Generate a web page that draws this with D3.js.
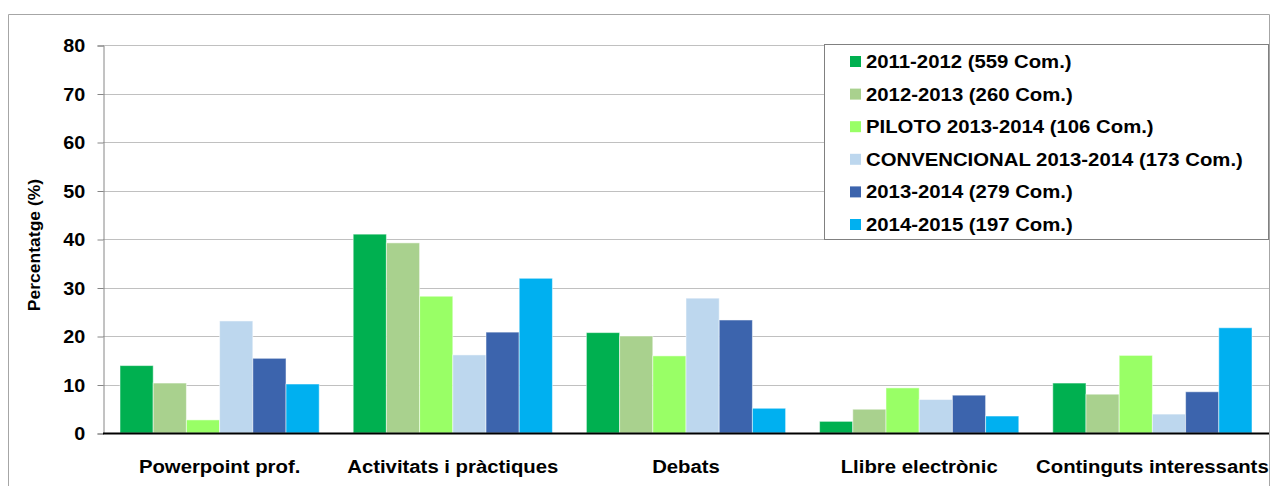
<!DOCTYPE html>
<html>
<head>
<meta charset="utf-8">
<script src="https://cdn.jsdelivr.net/npm/d3@7/dist/d3.min.js"></script>
<style>
body{margin:0;background:#fff;}
text{font-family:"Liberation Sans",Arial,sans-serif;font-weight:bold;fill:#000;}
</style>
</head>
<body>
<div id="chart"></div>
<script>
// categories and series
var categories=['Powerpoint prof.','Activitats i pràctiques','Debats','Llibre electrònic','Continguts interessants'];
var seriesNames=['2011-2012 (559 Com.)','2012-2013 (260 Com.)','PILOTO 2013-2014 (106 Com.)','CONVENCIONAL 2013-2014 (173 Com.)','2013-2014 (279 Com.)','2014-2015 (197 Com.)'];
var colors=['#00b050','#a9d18e','#99ff66','#bdd7ee','#3c64ad','#00b0f0'];
var s2011=[13.9,41.0,20.7,2.4,10.3];
var s2012=[10.3,39.2,20.0,4.9,8.0];
var sPiloto=[2.7,28.2,15.9,9.3,16.0];
var sConv=[23.1,16.1,27.8,6.9,3.9];
var s2013=[15.4,20.8,23.3,7.8,8.5];
var s2014=[10.1,31.9,5.1,3.5,21.7];
var yTicks=[0,10,20,30,40,50,60,70,80];
var series=[s2011,s2012,sPiloto,sConv,s2013,s2014];

var W=1282,H=486;
var stretch=1.13; // source text looks a bit wide
var svg=d3.select('#chart').append('svg').attr('width',W).attr('height',H);

// outer frame
svg.append('path')
    .attr('d',d3.line()([[8.5,H+2],[8.5,14.5],[1269.5,14.5],[1269.5,H+2]]))
    .style('fill','none').style('stroke','#a6a6a6').style('stroke-width',1);

var pl=103,pr=1269,pt=45,pb=433;
var x=d3.scaleBand().domain(categories).range([pl,pr]).paddingInner(0.1457).paddingOuter(0.0729);
var xs=d3.scaleBand().domain(d3.range(series.length)).range([0,x.bandwidth()]);
var y=d3.scaleLinear().domain([0,80]).range([pb,pt]);

// gridlines
svg.append('g').selectAll('line').data(yTicks.slice(1)).enter()
    .append('line')
    .attr('x1',pl).attr('x2',pr)
    .attr('y1',function(d){return Math.round(y(d))+0.5}).attr('y2',function(d){return Math.round(y(d))+0.5})
    .style('stroke','#c0c0c0').style('stroke-width',1);

// y axis
var yax=svg.append('g').attr('transform','translate('+(pl+0.5)+',0.5)')
    .call(d3.axisLeft(y).tickValues(yTicks).tickSize(6).tickPadding(11));
yax.select('.domain').style('stroke','#868686');
yax.selectAll('.tick line').style('stroke','#868686');
yax.selectAll('text').style('font-size','17.5px').attr('dy','0.35em')
    .attr('transform','translate(1,0) scale('+stretch+',1)');

// bars
var grp=svg.append('g').selectAll('g').data(series).enter()
    .append('g')
    .style('fill',function(d,i){return colors[i]});
grp.selectAll('rect').data(function(d,i){return d.map(function(v,j){return {v:v,s:i,c:categories[j]}})}).enter()
    .append('rect')
    .attr('x',function(d){return x(d.c)+xs(d.s)})
    .attr('width',xs.bandwidth())
    .attr('y',function(d){return y(d.v)})
    .attr('height',function(d){return pb-y(d.v)})
    .style('stroke','rgba(255,255,255,0.5)').style('stroke-width',1);

// baseline
svg.append('line').attr('x1',pl).attr('x2',pr).attr('y1',pb+0.5).attr('y2',pb+0.5)
    .style('stroke','#000').style('stroke-width',2);

// x labels
svg.append('g').selectAll('text').data(categories).enter()
    .append('text')
    .attr('transform',function(d){return 'translate('+(x(d)+x.bandwidth()/2)+',473) scale('+stretch+',1)'})
    .attr('text-anchor','middle')
    .style('font-size','18px')
    .text(function(d){return d});

// y title
svg.append('text')
    .attr('transform','translate(40,245) rotate(-90) scale(1.03,1)')
    .attr('text-anchor','middle')
    .style('font-size','17px')
    .text('Percentatge (%)');

// legend
var lg=svg.append('g');
lg.append('rect').attr('x',824.5).attr('y',44.5).attr('width',444).attr('height',195)
    .style('fill','#fff').style('stroke','#808080').style('stroke-width',1);
var li=lg.selectAll('.li').data(seriesNames).enter()
    .append('g').attr('class','li')
    .attr('transform',function(d,i){return 'translate(850,'+(61+i*32.6)+')'});
li.append('rect').attr('x',0).attr('y',-5).attr('width',11).attr('height',11)
    .style('fill',function(d,i){return colors[i]});
li.append('text').attr('transform','translate(16,7) scale('+stretch+',1)').style('font-size','18px').text(function(d){return d});
</script>
</body>
</html>
